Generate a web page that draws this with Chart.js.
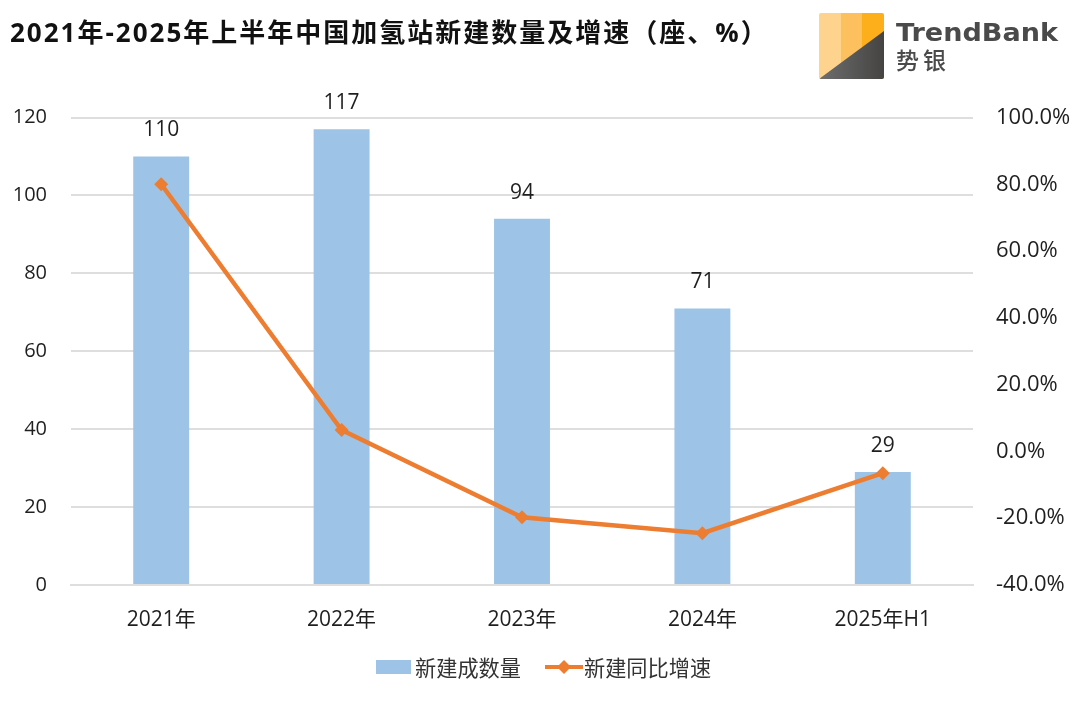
<!DOCTYPE html>
<html lang="zh">
<head>
<meta charset="utf-8">
<title>中国加氢站新建数量及增速</title>
<script src="https://cdn.jsdelivr.net/npm/chart.js@4/dist/chart.umd.min.js"></script>
<style>
    html, body { margin: 0; padding: 0; background: #fff; }
    #wrap { position: relative; width: 1080px; height: 701px; overflow: hidden; font-family: "Open Sans", "Noto Sans CJK SC", sans-serif; }
    #wrap canvas { position: absolute; left: 0; top: 0; }
    #title { position: absolute; left: 10px; top: 14px; font: 700 26px/36px "Open Sans", "Noto Sans CJK SC", sans-serif; letter-spacing: 2px; color: #111; white-space: nowrap; }
    #logo { position: absolute; left: 815px; top: 8px; }
    #legend { position: absolute; left: 376px; top: 654px; height: 26px; display: flex; align-items: center; font: 21.2px/26px "Noto Sans CJK SC", sans-serif; color: #333; white-space: nowrap; }
    #legend svg { display: block; }
</style>
</head>
<body>
<div id="wrap">
    <canvas id="stationChart" width="1080" height="701"></canvas>
    <div id="title">2021年-2025年上半年中国加氢站新建数量及增速（座、%）</div>
    <svg id="logo" width="260" height="76" viewBox="0 0 260 76">
        <defs>
            <linearGradient id="darkFade" x1="0" y1="0" x2="1" y2="0">
                <stop offset="0" stop-color="#6e6e6e"/>
                <stop offset="1" stop-color="#454443"/>
            </linearGradient>
            <clipPath id="logoBox"><rect x="4" y="5" width="65" height="66" rx="2"/></clipPath>
        </defs>
        <g clip-path="url(#logoBox)">
            <rect x="4" y="5" width="22" height="66" fill="#fdd38d"/>
            <rect x="26" y="5" width="21" height="66" fill="#fdc05f"/>
            <rect x="47" y="5" width="22" height="66" fill="#fdae1b"/>
            <path d="M4 71 L69 23 L69 71 Z" fill="url(#darkFade)"/>
        </g>
        <text x="81" y="33" font-family="DejaVu Sans" font-weight="700" font-size="25.5" fill="#4a4a4a" textLength="162" lengthAdjust="spacingAndGlyphs">TrendBank</text>
        <text x="81" y="61" font-family="Noto Sans CJK SC" font-weight="500" font-size="23" letter-spacing="4" fill="#4a4a4a">势银</text>
    </svg>
    <div id="legend"></div>
</div>

<script>
// Hydrogen station build-out, 2021 to first half of 2025
const categories = ['2021年', '2022年', '2023年', '2024年', '2025年H1'];
const newStations = [110, 117, 94, 71, 29];
const growthRate = [80, 6.4, -19.7, -24.5, -6.5];
const seriesNames = ['新建成数量', '新建同比增速'];

const BAR_BLUE = '#9dc3e6';
const LINE_ORANGE = '#ed7d31';
const TEXT_DARK = '#1f1f1f';
const GRID_GREY = '#dedede';
const FONT_STACK = '"Open Sans", "Noto Sans CJK SC", sans-serif';

// Prints each bar's value above it
const barValueLabels = {
    id: 'barValueLabels',
    afterDatasetsDraw(chart) {
        const ctx = chart.ctx;
        const meta = chart.getDatasetMeta(1);
        ctx.save();
        ctx.font = '21px "Open Sans", sans-serif';
        ctx.fillStyle = TEXT_DARK;
        ctx.textAlign = 'center';
        ctx.textBaseline = 'middle';
        meta.data.forEach((bar, i) => {
            ctx.fillText(newStations[i], bar.x, bar.y - 26);
        });
        ctx.restore();
    }
};

new Chart(document.getElementById('stationChart'), {
    type: 'bar',
    data: {
        labels: categories,
        datasets: [
            {
                type: 'line',
                label: seriesNames[1],
                data: growthRate,
                yAxisID: 'yRate',
                borderColor: LINE_ORANGE,
                backgroundColor: LINE_ORANGE,
                borderWidth: 4.5,
                tension: 0,
                pointStyle: 'rectRot',
                pointRadius: 7,
                pointBorderWidth: 0,
                order: 0
            },
            {
                label: seriesNames[0],
                data: newStations,
                yAxisID: 'yCount',
                backgroundColor: BAR_BLUE,
                barPercentage: 0.31,
                categoryPercentage: 1,
                order: 1
            }
        ]
    },
    options: {
        responsive: false,
        animation: false,
        layout: { padding: { top: 117.5, bottom: 0 } },
        plugins: {
            legend: { display: false },
            title: { display: false },
            tooltip: { enabled: false }
        },
        scales: {
            x: {
                grid: { display: false, drawTicks: false },
                border: { color: GRID_GREY, width: 2 },
                ticks: { color: TEXT_DARK, font: { family: FONT_STACK, size: 21 }, padding: 22, maxRotation: 0 },
                afterFit(scale) { scale.height = 116; }
            },
            yCount: {
                position: 'left',
                min: 0,
                max: 120,
                grid: { color: GRID_GREY, lineWidth: 2, drawTicks: false },
                border: { display: false },
                ticks: { stepSize: 20, color: TEXT_DARK, font: { family: FONT_STACK, size: 20 }, padding: 24 },
                afterFit(scale) { scale.width = 71; }
            },
            yRate: {
                position: 'right',
                min: -40,
                max: 100,
                grid: { drawOnChartArea: false, drawTicks: false },
                border: { display: false },
                ticks: {
                    stepSize: 20,
                    color: TEXT_DARK,
                    font: { family: FONT_STACK, size: 22 },
                    padding: 23,
                    callback: value => value.toFixed(1) + '%'
                },
                afterFit(scale) { scale.width = 107; }
            }
        }
    },
    plugins: [barValueLabels]
});

// Legend keys: a filled swatch for the bars, a marked line for the growth rate
const legendEl = document.getElementById('legend');
legendEl.innerHTML =
    '<svg width="35" height="14" style="margin-right:4px"><rect width="35" height="14" fill="' + BAR_BLUE + '"/></svg>' +
    '<span>' + seriesNames[0] + '</span>' +
    '<svg width="38" height="16" style="margin:0 1px 0 24px"><line x1="0" y1="8" x2="38" y2="8" stroke="' + LINE_ORANGE + '" stroke-width="4"/>' +
    '<path d="M19 1 L26 8 L19 15 L12 8 Z" fill="' + LINE_ORANGE + '"/></svg>' +
    '<span>' + seriesNames[1] + '</span>';
</script>
</body>
</html>
